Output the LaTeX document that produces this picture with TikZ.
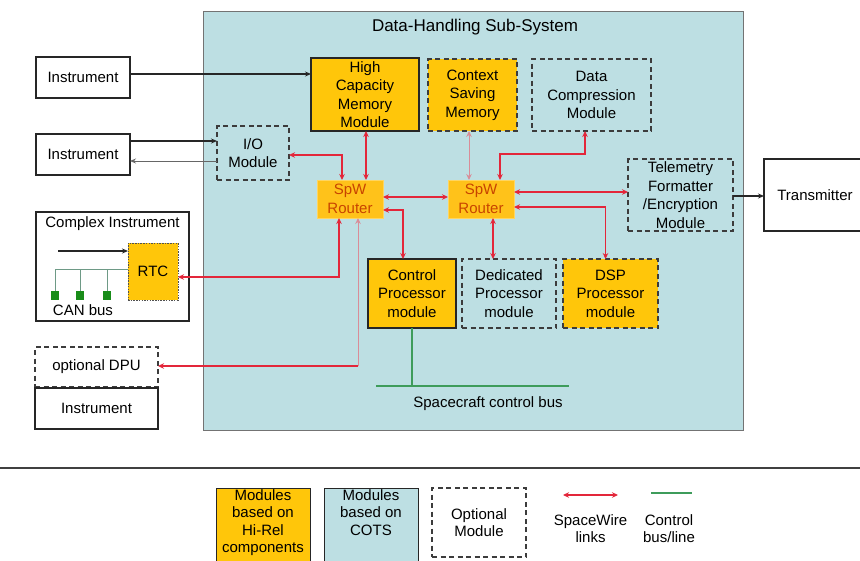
\documentclass[tikz,border=0pt]{standalone}
\usepackage{fontspec}
\setmainfont{Liberation Sans}
\usetikzlibrary{arrows.meta,calc}
\definecolor{dhsbg}{HTML}{BDDFE3}
\definecolor{hiyel}{HTML}{FFC60A}
\definecolor{rtfill}{HTML}{FFC21A}
\definecolor{rtedge}{HTML}{FFD560}
\definecolor{rttext}{HTML}{C84400}
\definecolor{spwred}{HTML}{E3263A}
\definecolor{spwpale}{HTML}{D98C98}
\definecolor{busgreen}{HTML}{3E9C5B}
\definecolor{canline}{HTML}{6E9A86}
\definecolor{edge}{HTML}{262626}
\newcommand\lblfont{\fontsize{15}{18.5}\selectfont}
\newcommand\lgdfont{\fontsize{15}{17.5}\selectfont}
\begin{document}
\begin{tikzpicture}[x=1pt,y=-1pt,
  every node/.style={inner sep=0pt,outer sep=0pt,align=center,font=\lblfont},
  plainbox/.style={draw=edge,line width=1.2pt,fill=white},
  hirelbox/.style={draw=edge,line width=1.7pt,fill=hiyel},
  optdash/.style={draw=edge!90,line width=1.3pt,dash pattern=on 5pt off 3.5pt},
  optcots/.style={optdash,fill=dhsbg},
  opthirel/.style={optdash,fill=hiyel},
  routerbox/.style={fill=rtfill,draw=rtedge,line width=1pt,text=rttext},
  spw/.style={draw=spwred,line width=1.3pt,{Stealth[length=6pt,width=5.5pt]}-{Stealth[length=6pt,width=5.5pt]}},
  spwfaint/.style={spw,draw=spwpale,line width=0.9pt},
  datalink/.style={draw=edge,line width=1.2pt,-{Stealth[length=6pt,width=5pt]}},
  retlink/.style={draw=black!60,line width=0.9pt,-{Stealth[length=6pt,width=5pt]}},
  ctlbus/.style={draw=busgreen,line width=1.6pt},
  canbus/.style={draw=canline,line width=0.8pt}]

\useasboundingbox (0,0) rectangle (860,560);
\fill[white] (0,0) rectangle (860,560);

% Data-Handling Sub-System frame
\draw[draw=black!55,line width=0.8pt,fill=dhsbg] (203,11) rectangle (743,430);
\node (title) at (475,27) {\fontsize{17}{20}\selectfont Data-Handling Sub-System};

% External instruments and transmitter
\node[plainbox,minimum width=94pt,minimum height=41pt] (inst1) at (83,77.5) {Instrument};
\node[plainbox,minimum width=94pt,minimum height=41pt] (inst2) at (83,154.5) {Instrument};
\node[plainbox,minimum width=102pt,minimum height=72pt] (trans) at (815,195) {Transmitter};

% Complex instrument with its RTC and CAN bus
\node[plainbox,minimum width=153pt,minimum height=109pt] (cplx) at (112.5,266.5) {};
\node[anchor=center] (cplxt) at (112.5,224) {Complex Instrument};
\node[fill=hiyel,draw=edge!80,line width=1pt,dash pattern=on 1.5pt off 1.2pt,
      minimum width=50pt,minimum height=57pt] (rtc) at (153,271.5) {RTC};
\coordinate (cin) at (58,251);
\draw[datalink] (cin) -- (cin -| rtc.west);
\coordinate (canl) at (55,269);
\draw[canbus] (canl) -- (canl -| rtc.west);
\foreach \cx/\nm in {55/cana,80/canb,107/canc}{
  \node[fill=green!50!black!90,minimum width=8pt,minimum height=9pt] (\nm) at (\cx,295.5) {};
  \draw[canbus] (\nm.north) -- (\nm.north |- canl);
}
\node (canlbl) at (83,310) {CAN bus};

% Optional DPU stacked on an instrument
\node[optdash,fill=white,minimum width=123pt,minimum height=40pt] (dpu) at (96.5,367) {optional DPU};
\node[plainbox,minimum width=123pt,minimum height=41pt] (inst3) at (96.5,408.5) {Instrument};

% Modules inside the DHSS
\node[optcots,minimum width=72pt,minimum height=54pt] (io) at (253,153) {I/O\\Module};
\node[hirelbox,minimum width=108pt,minimum height=73pt] (hcmm) at (365,94.5) {High\\Capacity\\Memory\\Module};
\node[opthirel,minimum width=89pt,minimum height=72pt] (csm) at (472.5,95) {Context\\Saving\\Memory};
\node[optcots,minimum width=119pt,minimum height=72pt] (dcm) at (591.5,95) {Data\\Compression\\Module};
\node[optcots,minimum width=105pt,minimum height=72pt] (tel) at (680.5,195) {Telemetry\\Formatter\\/Encryption\\Module};
\node[routerbox,minimum width=66pt,minimum height=38pt] (r1) at (350,199) {SpW\\Router};
\node[routerbox,minimum width=66pt,minimum height=38pt] (r2) at (481,199) {SpW\\Router};
\node[hirelbox,minimum width=88pt,minimum height=69pt] (cp) at (412,293.5) {Control\\Processor\\module};
\node[optcots,minimum width=94pt,minimum height=69pt] (dp) at (509,293.5) {Dedicated\\Processor\\module};
\node[opthirel,minimum width=95pt,minimum height=69pt] (dsp) at (610.5,293.5) {DSP\\Processor\\module};

% Spacecraft control bus
\coordinate (busl) at (376,386);
\coordinate (busr) at (569,386);
\draw[ctlbus] (busl) -- (busr);
\draw[ctlbus,line width=1.2pt] (cp.south) -- (cp.south |- busl);
\node (buslbl) at (488,404) {Spacecraft control bus};

% Instrument data links
\draw[datalink] ([yshift=3.5pt]inst1.east) -- ([yshift=3.5pt]inst1.east -| hcmm.west);
\draw[datalink] ([yshift=13.5pt]inst2.east) -- ([yshift=13.5pt]inst2.east -| io.west);
\draw[retlink] ([yshift=-6.5pt]inst2.east -| io.west) -- ([yshift=-6.5pt]inst2.east);
\draw[datalink] ([yshift=-1pt]tel.east) -- ([yshift=-1pt]tel.east -| trans.west);

% SpaceWire links around the first router
\draw[spw] ([yshift=-2pt]io.east) -| ([xshift=-8pt]r1.north);
\draw[spw] ([xshift=1pt]hcmm.south) -- ([xshift=1pt]hcmm.south |- r1.north);
\draw[spw] ([yshift=2pt]r1.east) -- ([yshift=2pt]r1.east -| r2.west);
\draw[spw] ([yshift=-11pt]r1.east) -| ([xshift=-9pt]cp.north);
\draw[spw] ([yshift=-5.5pt]rtc.east) -| ([xshift=-11pt]r1.south);
\coordinate (r1d) at ([xshift=8pt]r1.south);
\coordinate (dpue) at ([yshift=1pt]dpu.east);
\coordinate (dpuk) at (dpue -| r1d);
\draw[draw=spwred,line width=1.3pt,-{Stealth[length=6pt,width=5.5pt]}] (dpuk) -- (dpue);
\draw[draw=spwpale,line width=0.9pt,-{Stealth[length=6pt,width=5.5pt]}] (dpuk) -- (r1d);

% SpaceWire links around the second router
\draw[spwfaint] ([xshift=-3.5pt]csm.south) -- ([xshift=-3.5pt]csm.south |- r2.north);
\coordinate (dknee) at (540,154);
\draw[spw] ([xshift=-6.5pt]dcm.south) |- (dknee) -| ([xshift=19pt]r2.north);
\draw[spw] ([yshift=7pt]r2.east) -- ([yshift=7pt]r2.east -| tel.west);
\draw[spw] ([yshift=-8pt]r2.east) -| ([xshift=-5pt]dsp.north);
\draw[spw] ([xshift=12pt]r2.south) -- ([xshift=12pt]r2.south |- dp.north);

% Legend
\draw[draw=black!75,line width=1.3pt] (0,468) -- (860,468);
\node[fill=hiyel,draw=edge,line width=1pt,minimum width=94pt,minimum height=73pt] (lgy) at (263,524.5) {};
\node[anchor=north,font=\lgdfont] (lgyt) at ([yshift=-1.5pt]lgy.north) {Modules\\based on\\Hi-Rel\\components};
\node[fill=dhsbg,draw=edge,line width=1pt,minimum width=94pt,minimum height=73pt] (lgb) at (371,524.5) {};
\node[anchor=north,font=\lgdfont] (lgbt) at ([yshift=-1.5pt]lgb.north) {Modules\\based on\\COTS};
\node[optdash,fill=white,minimum width=94pt,minimum height=69pt,font=\lgdfont] (lgo) at (479,522.5) {Optional\\Module};
\coordinate (lsa) at (563,495);
\coordinate (lsb) at (618,495);
\draw[spw] (lsa) -- (lsb);
\node[font=\lgdfont] (lst) at (590.5,528.5) {SpaceWire\\links};
\coordinate (lca) at (651,493);
\coordinate (lcb) at (692,493);
\draw[ctlbus] (lca) -- (lcb);
\node[font=\lgdfont] (lct) at (669,528.5) {Control\\bus/line};
\end{tikzpicture}
\end{document}
